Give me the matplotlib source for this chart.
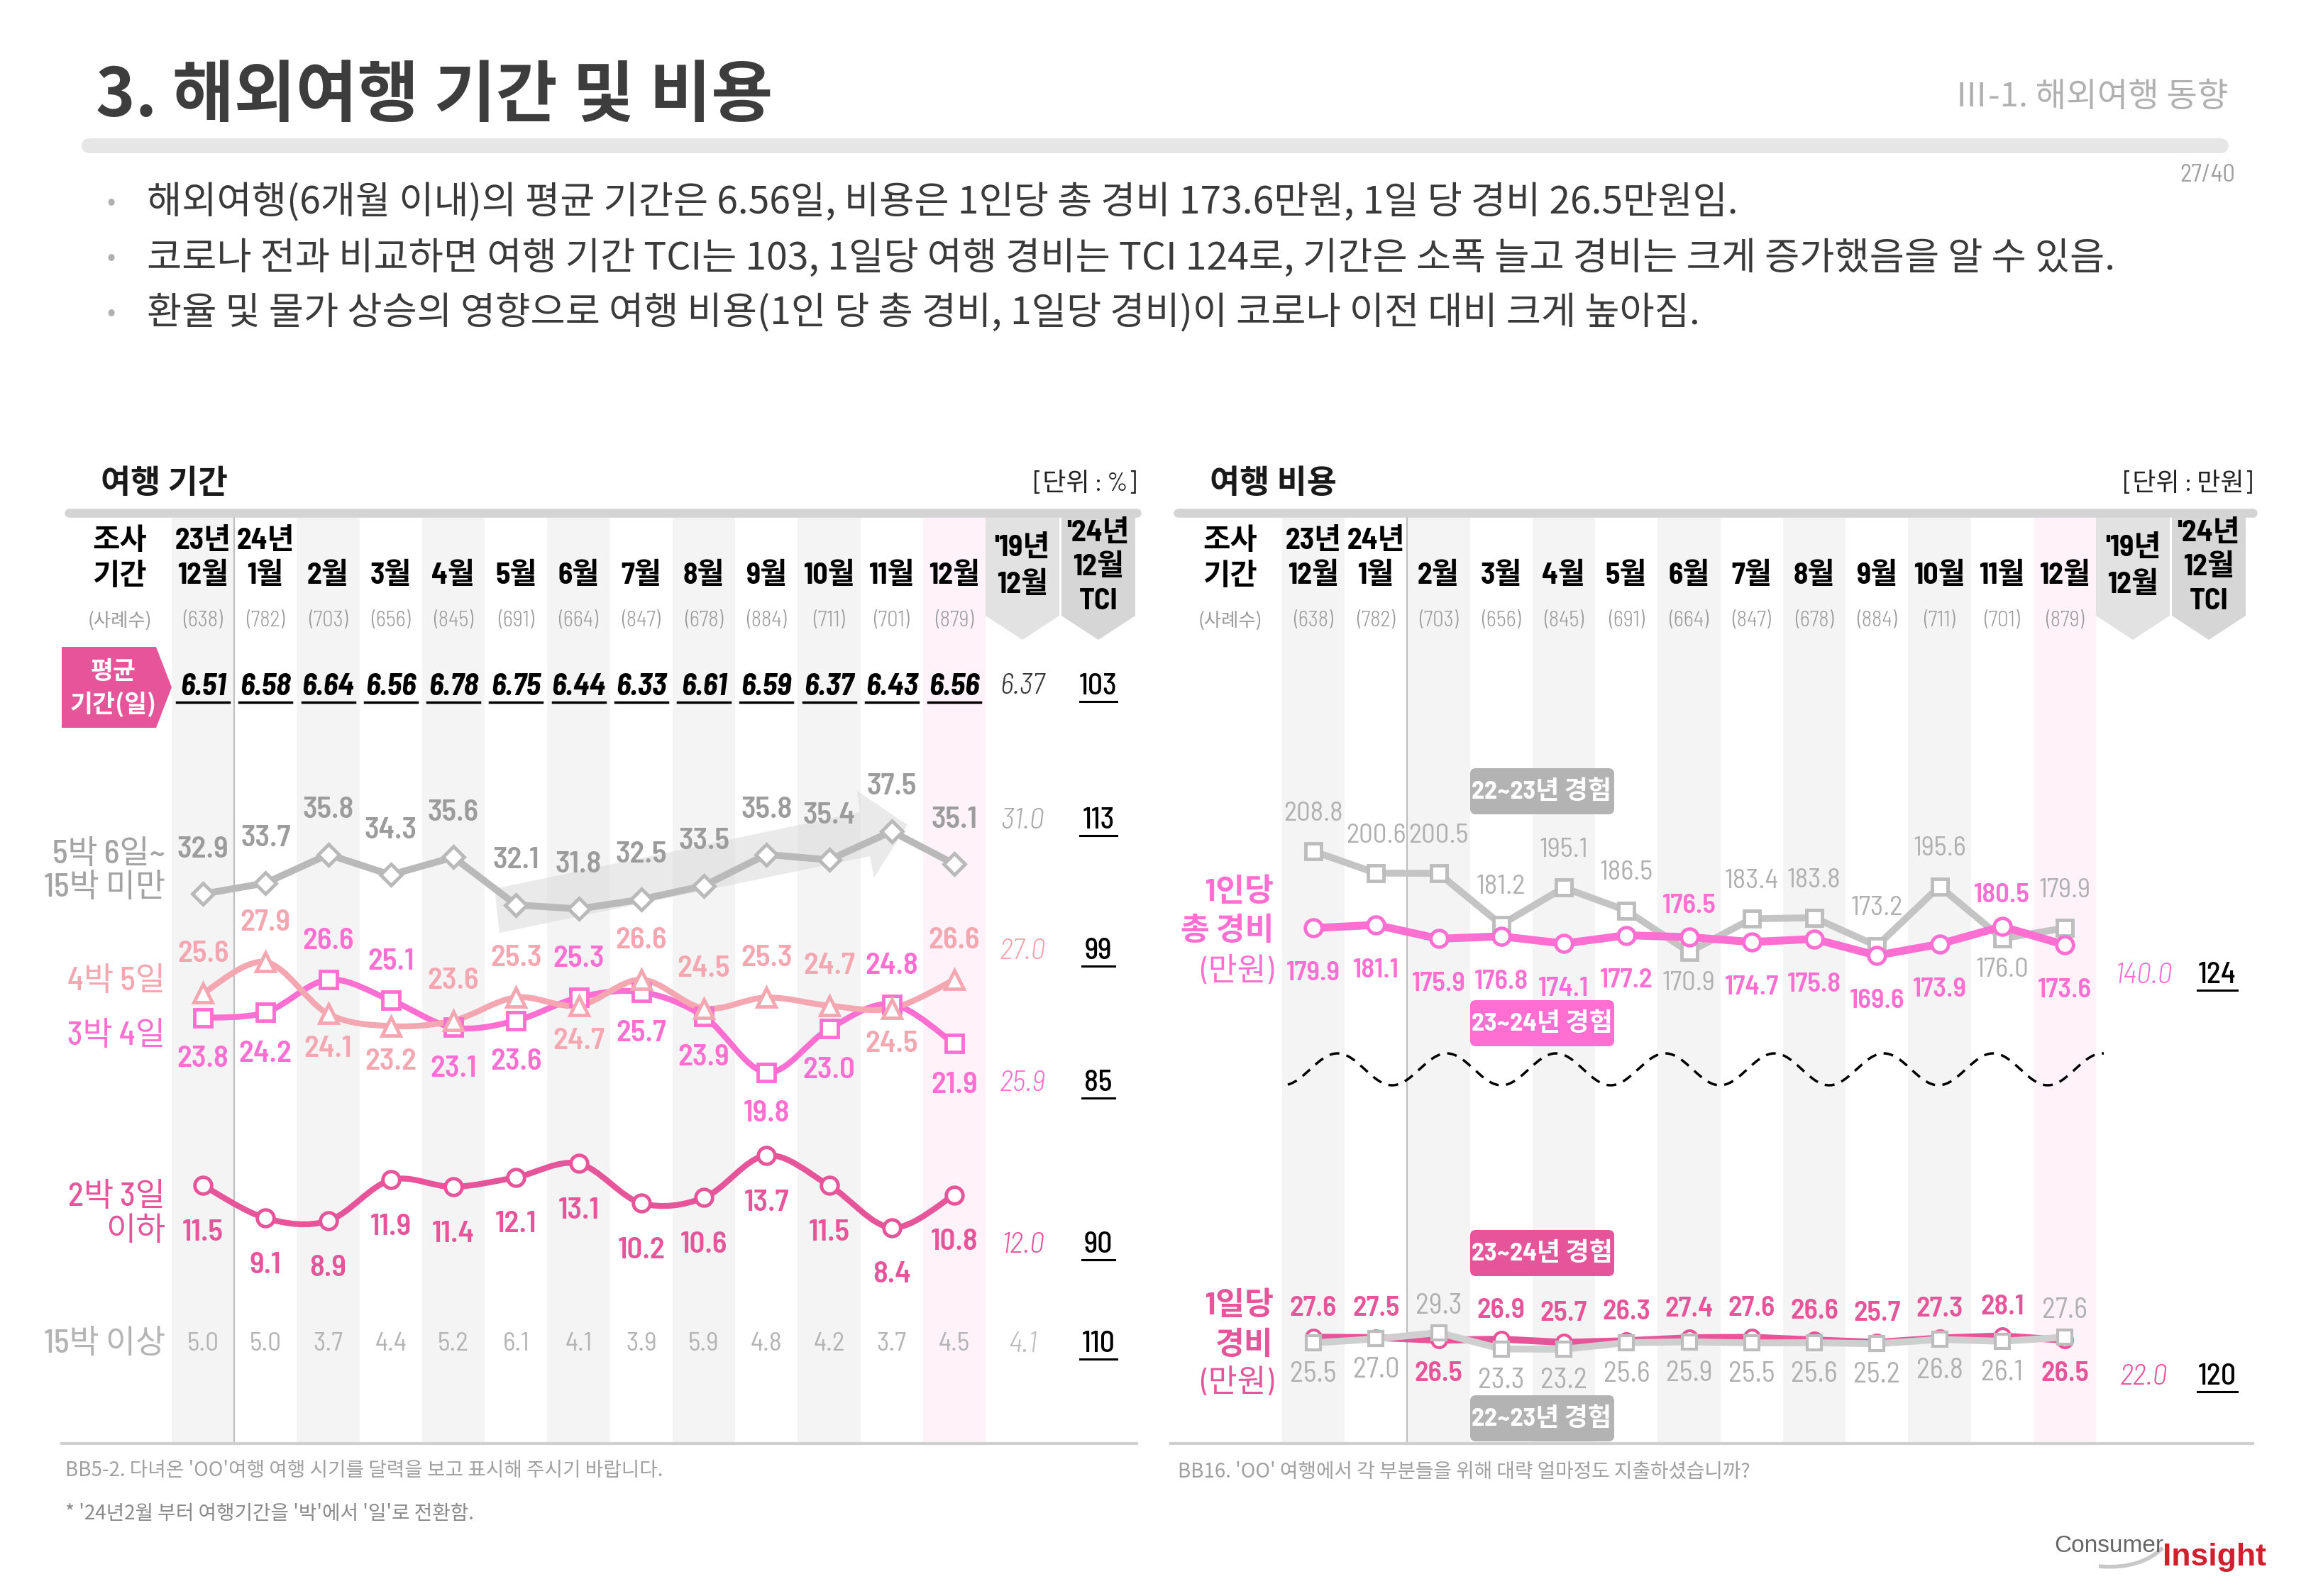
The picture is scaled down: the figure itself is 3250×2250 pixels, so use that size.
import numpy as np
import matplotlib.pyplot as plt
from matplotlib import font_manager as fm
from matplotlib.patches import Polygon, Rectangle, FancyBboxPatch, PathPatch
from matplotlib.path import Path

plt.rcParams['font.family'] = ['Noto Sans CJK KR', 'DejaVu Sans']
avail = {f.name for f in fm.fontManager.ttflist}
NUM = 'Barlow Semi Condensed' if 'Barlow Semi Condensed' in avail else 'Liberation Sans'
MIX = [NUM, 'Noto Sans CJK KR', 'DejaVu Sans']

W, H = 3250, 2250

# ---------------- data ----------------
years = ['23년', '24년']
months = ['12월', '1월', '2월', '3월', '4월', '5월', '6월', '7월', '8월', '9월', '10월', '11월', '12월']
n_cases = [638, 782, 703, 656, 845, 691, 664, 847, 678, 884, 711, 701, 879]

avg_days = [6.51, 6.58, 6.64, 6.56, 6.78, 6.75, 6.44, 6.33, 6.61, 6.59, 6.37, 6.43, 6.56]
avg_days_19 = 6.37
avg_days_tci = 103

stay_5n6d = [32.9, 33.7, 35.8, 34.3, 35.6, 32.1, 31.8, 32.5, 33.5, 35.8, 35.4, 37.5, 35.1]
stay_4n5d = [25.6, 27.9, 24.1, 23.2, 23.6, 25.3, 24.7, 26.6, 24.5, 25.3, 24.7, 24.5, 26.6]
stay_3n4d = [23.8, 24.2, 26.6, 25.1, 23.1, 23.6, 25.3, 25.7, 23.9, 19.8, 23.0, 24.8, 21.9]
stay_2n3d = [11.5, 9.1, 8.9, 11.9, 11.4, 12.1, 13.1, 10.2, 10.6, 13.7, 11.5, 8.4, 10.8]
stay_15n = [5.0, 5.0, 3.7, 4.4, 5.2, 6.1, 4.1, 3.9, 5.9, 4.8, 4.2, 3.7, 4.5]
stay_19 = [31.0, 27.0, 25.9, 12.0, 4.1]
stay_tci = [113, 99, 85, 90, 110]

cost_total_2324 = [179.9, 181.1, 175.9, 176.8, 174.1, 177.2, 176.5, 174.7, 175.8, 169.6, 173.9, 180.5, 173.6]
cost_total_2223 = [208.8, 200.6, 200.5, 181.2, 195.1, 186.5, 170.9, 183.4, 183.8, 173.2, 195.6, 176.0, 179.9]
cost_day_2324 = [27.6, 27.5, 26.5, 26.9, 25.7, 26.3, 27.4, 27.6, 26.6, 25.7, 27.3, 28.1, 26.5]
cost_day_2223 = [25.5, 27.0, 29.3, 23.3, 23.2, 25.6, 25.9, 25.5, 25.6, 25.2, 26.8, 26.1, 27.6]
cost_19 = [140.0, 22.0]
cost_tci = [124, 120]

# label side: 1 = above the point, -1 = below
side_4n5d = [1, 1, -1, -1, 1, 1, -1, 1, 1, 1, 1, -1, 1]
side_3n4d = [-1, -1, 1, 1, -1, -1, 1, -1, -1, -1, -1, 1, -1]
side_tot_2324 = [-1, -1, -1, -1, -1, -1, 1, -1, -1, -1, -1, 1, -1]
side_tot_2223 = [1, 1, 1, 1, 1, 1, -1, 1, 1, 1, 1, -1, 1]
side_day_2324 = [1, 1, -1, 1, 1, 1, 1, 1, 1, 1, 1, 1, -1]
side_day_2223 = [-1, -1, 1, -1, -1, -1, -1, -1, -1, -1, -1, -1, 1]

# ---------------- colours ----------------
GRAY_LINE = '#b9b9b9'
LPINK = '#f4a6b1'
MAGENTA = '#ff6fd2'
DPINK = '#e6559a'
STRIPE = '#f4f4f4'
PINK_BG = '#fff2f8'
BAR = '#d4d4d4'

XL0, XR0, DX = 286, 1851, 88.25

fig = plt.figure(figsize=(32.5, 22.5), dpi=100)
cv = fig.add_axes([0, 0, 1, 1])
cv.set_xlim(0, W)
cv.set_ylim(H, 0)
cv.axis('off')


def px_axes(x_left, x_right, y_top, y_bot):
    ax = fig.add_axes([x_left / W, 1 - y_bot / H, (x_right - x_left) / W, (y_bot - y_top) / H])
    ax.patch.set_alpha(0)
    ax.axis('off')
    ax.set_xlim(-0.5, 12.5)
    return ax


def smooth(ax, ys, color, lw, t=1 / 6):
    xs = np.arange(len(ys), dtype=float)
    p = np.column_stack([xs, np.asarray(ys, dtype=float)])
    verts = [p[0]]
    codes = [Path.MOVETO]
    for i in range(len(p) - 1):
        p0 = p[i - 1] if i > 0 else p[i]
        p3 = p[i + 2] if i + 2 < len(p) else p[i + 1]
        verts += [p[i] + (p[i + 1] - p0) * t, p[i + 1] - (p3 - p[i]) * t, p[i + 1]]
        codes += [Path.CURVE4] * 3
    ax.add_patch(PathPatch(Path(verts, codes), fc='none', ec=color, lw=lw,
                           capstyle='round', joinstyle='round'))


def markers(ax, ys, color, marker, ms, mew=3.5):
    ax.plot(range(len(ys)), ys, ls='none', marker=marker, ms=ms, mfc='white',
            mec=color, mew=mew, clip_on=False)


def labels(ax, ys, sides, up, down, color, size, weight=600):
    for i, (v, s) in enumerate(zip(ys, sides)):
        ax.annotate(f'{v:.1f}', (i, v), xytext=(0, up if s > 0 else -down),
                    textcoords='offset points', ha='center', va='center',
                    fontsize=size, color=color, fontweight=weight, family=MIX)


def uline(x, y, s, size, width, color='black'):
    cv.text(x, y, s, ha='center', va='center', fontsize=size, color=color,
            fontweight=500, family=MIX)
    cv.plot([x - width / 2, x + width / 2], [y + 21, y + 21], color=color, lw=2.2)


def ital(x, y, s, size, color):
    cv.text(x, y, s, ha='center', va='center', fontsize=size, color=color,
            style='italic', fontweight=300, family=MIX)


# ---------------- page header ----------------
cv.text(135, 136, '3. 해외여행 기간 및 비용', fontsize=68, fontweight='bold', color='#3d3d3d', va='center')
cv.text(3140, 137, 'Ⅲ-1. 해외여행 동향', fontsize=34, color='#b0b0b0', va='center', ha='right')
cv.plot([125, 3130], [205, 205], color='#e6e6e6', lw=15, solid_capstyle='round')
cv.text(3150, 247, '27/40', fontsize=25, color='#a0a0a0', va='center', ha='right', family=MIX)

bullets = [
    '해외여행(6개월 이내)의 평균 기간은 6.56일, 비용은 1인당 총 경비 173.6만원, 1일 당 경비 26.5만원임.',
    '코로나 전과 비교하면 여행 기간 TCI는 103, 1일당 여행 경비는 TCI 124로, 기간은 소폭 늘고 경비는 크게 증가했음을 알 수 있음.',
    '환율 및 물가 상승의 영향으로 여행 비용(1인 당 총 경비, 1일당 경비)이 코로나 이전 대비 크게 높아짐.',
]
for k, b in enumerate(bullets):
    y = 286 + k * 78
    cv.text(157, y, '•', fontsize=26, color='#b0b0b0', va='center', ha='center')
    cv.text(207, y, b, fontsize=38.5, color='#3a3a3a', va='center')

# ---------------- panel frames ----------------
for x0, xl, xr, vline, title, unit in [
        (XL0, 97, 1602, XL0 + DX / 2, '여행 기간', '[단위 : %]'),
        (XR0, 1660, 3175, XR0 + 1.5 * DX, '여행 비용', '[단위 : 만원]')]:
    cv.text(xl + 45, 682, title, fontsize=33, fontweight='bold', color='#1a1a1a', va='center')
    cv.text(xr, 682, unit, fontsize=26, color='#222222', va='center', ha='right', family=MIX)
    for i in range(13):
        if i == 12:
            fc = PINK_BG
        elif i % 2 == 0:
            fc = STRIPE
        else:
            continue
        cv.add_patch(Rectangle((x0 + i * DX - DX / 2, 728), DX, 2035 - 728, fc=fc, ec='none', zorder=0))
    cv.plot([vline, vline], [728, 2035], color='#bdbdbd', lw=1.5, zorder=1)
    cv.plot([xl, xr], [723, 723], color=BAR, lw=9, solid_capstyle='round', zorder=2)
    cv.plot([xl - 10, xr], [2035, 2035], color='#d0d0d0', lw=3, zorder=2)

    # '19 and TCI header arrows
    x19 = x0 + 12 * DX + 96
    xtc = x19 + 107
    for xc, fc in [(x19, '#e2e2e2'), (xtc, '#d6d6d6')]:
        cv.add_patch(Polygon([(xc - 52, 728), (xc + 52, 728), (xc + 52, 868), (xc, 902), (xc - 52, 868)],
                             closed=True, fc=fc, ec='none', zorder=1))
    hk = dict(fontsize=30, fontweight='bold', ha='center', va='center', family=MIX)
    cv.text(x19, 773, "'19년", **hk)
    cv.text(x19, 825, '12월', **hk)
    cv.text(xtc, 752, "'24년", **hk)
    cv.text(xtc, 800, '12월', **hk)
    cv.text(xtc, 848, 'TCI', **hk)

    # survey period header
    cx = x0 - 117
    cv.text(cx, 763, '조사', **hk)
    cv.text(cx, 812, '기간', **hk)
    cv.text(cx, 875, '(사례수)', fontsize=19, color='#9a9a9a', ha='center', va='center')
    for i, yr in enumerate(years):
        cv.text(x0 + i * DX, 763, yr, **hk)
    for i, (m, n) in enumerate(zip(months, n_cases)):
        cv.text(x0 + i * DX, 812, m, **hk)
        cv.text(x0 + i * DX, 875, f'({n})', fontsize=22, fontweight=300, color='#9a9a9a',
                ha='center', va='center', family=MIX)

XL19, XLTC = XL0 + 12 * DX + 96, XL0 + 12 * DX + 203
XR19, XRTC = XR0 + 12 * DX + 96, XR0 + 12 * DX + 203

# ---------------- left: average days row ----------------
cv.add_patch(Polygon([(87, 912), (220, 912), (242, 969), (220, 1026), (87, 1026)],
                     closed=True, fc=DPINK, ec='none', zorder=2))
cv.text(160, 946, '평균', fontsize=25, fontweight='bold', color='white', ha='center', va='center', zorder=3)
cv.text(160, 993, '기간(일)', fontsize=25, fontweight='bold', color='white', ha='center', va='center', zorder=3)
for i, v in enumerate(avg_days):
    x = XL0 + i * DX
    cv.text(x, 968, f'{v:.2f}', fontsize=31, fontweight='bold', style='italic', ha='center', va='center',
            family=MIX)
    cv.plot([x - 37, x + 37], [990, 990], color='black', lw=2.5)
ital(XL19, 968, f'{avg_days_19:.2f}', 30, '#333333')
uline(XLTC, 968, str(avg_days_tci), 30, 52)

# ---------------- left: stay length lines ----------------
cv.add_patch(Polygon([(697, 1253), (1212, 1145), (1208, 1115), (1279, 1163), (1232, 1237),
                      (1226, 1207), (704, 1315)], closed=True, fc='#dcdcdc', ec='none', alpha=0.6, zorder=1))

axL = px_axes(XL0 - DX / 2, XL0 + 12.5 * DX, 1080, 1800)
axL.set_ylim(4.79, 42.29)

axL.plot(range(13), stay_5n6d, color=GRAY_LINE, lw=7, solid_joinstyle='round')
markers(axL, stay_5n6d, GRAY_LINE, 'D', 15)
labels(axL, stay_5n6d, [1] * 13, 45, 45, '#9c9c9c', 31)

smooth(axL, stay_3n4d, MAGENTA, 6)
markers(axL, stay_3n4d, MAGENTA, 's', 17)
smooth(axL, stay_4n5d, LPINK, 6)
markers(axL, stay_4n5d, LPINK, '^', 19)
labels(axL, stay_3n4d, side_3n4d, 39, 42, MAGENTA, 31)
labels(axL, stay_4n5d, side_4n5d, 40, 36, LPINK, 31)

smooth(axL, stay_2n3d, DPINK, 6)
markers(axL, stay_2n3d, DPINK, 'o', 17)
labels(axL, stay_2n3d, [-1] * 13, 48, 48, DPINK, 31)

for i, v in enumerate(stay_15n):
    cv.text(XL0 + i * DX, 1895, f'{v:.1f}', fontsize=27, color='#b4b4b4', ha='center', va='center',
            family=MIX)

row_names = [(['5박 6일~', '15박 미만'], [1205, 1252], '#a3a3a3'),
             (['4박 5일'], [1384], LPINK),
             (['3박 4일'], [1461], MAGENTA),
             (['2박 3일', '이하'], [1688, 1736], DPINK),
             (['15박 이상'], [1895], '#b4b4b4')]
for lines, ys, col in row_names:
    for s, y in zip(lines, ys):
        cv.text(233, y, s, fontsize=33, color=col, ha='right', va='center', fontweight=500, family=MIX)

row_y = [1157, 1341, 1527, 1755, 1895]
row_c = ['#aaaaaa', LPINK, MAGENTA, DPINK, '#bbbbbb']
for v, t, y, c in zip(stay_19, stay_tci, row_y, row_c):
    ital(XL19, y, f'{v:.1f}', 30, c)
    uline(XLTC, y, str(t), 30, 46 if t < 100 else 52)

cv.text(92, 2073, "BB5-2. 다녀온 'OO'여행 여행 시기를 달력을 보고 표시해 주시기 바랍니다.", fontsize=20,
        color='#a0a0a0', va='center')
cv.text(92, 2134, "* '24년2월 부터 여행기간을 '박'에서 '일'로 전환함.", fontsize=20, color='#8a8a8a', va='center')

# ---------------- right: travel cost ----------------
axRT = px_axes(XR0 - DX / 2, XR0 + 12.5 * DX, 1100, 1440)
axRT.set_ylim(144.8, 235.5)
axRT.plot(range(13), cost_total_2223, color='#c4c4c4', lw=7)
markers(axRT, cost_total_2223, '#bdbdbd', 's', 16)
axRT.plot(range(13), cost_total_2324, color=MAGENTA, lw=8)
markers(axRT, cost_total_2324, MAGENTA, 'o', 17)
labels(axRT, cost_total_2223, side_tot_2223, 38, 32, '#b0b0b0', 28, 400)
labels(axRT, cost_total_2324, side_tot_2324, 32, 46, MAGENTA, 28)

axRB = px_axes(XR0 - DX / 2, XR0 + 12.5 * DX, 1780, 1990)
axRB.set_ylim(0.2, 55.1)
axRB.plot(range(13), cost_day_2324, color=DPINK, lw=7)
markers(axRB, cost_day_2324, DPINK, 'o', 15, 3)
axRB.plot(range(13), cost_day_2223, color='#cfcfcf', lw=7)
markers(axRB, cost_day_2223, '#bdbdbd', 's', 15, 3)
labels(axRB, cost_day_2324, side_day_2324, 29, 34, DPINK, 29)
labels(axRB, cost_day_2223, side_day_2223, 27, 32, '#b0b0b0', 29, 400)

# break line between the two blocks
wx = np.linspace(1815, 2965, 400)
cv.plot(wx, 1507.5 - 22.5 * np.cos(2 * np.pi * (wx - 1885) / 154), color='black', lw=2.5,
        ls=(0, (4, 3)))

for (y0, fc, s) in [(1083, '#b3b3b3', '22~23년 경험'), (1410, MAGENTA, '23~24년 경험'),
                    (1734, DPINK, '23~24년 경험'), (1967, '#b3b3b3', '22~23년 경험')]:
    cv.add_patch(FancyBboxPatch((2080, y0 + 8), 187, 49, boxstyle='round,pad=8', fc=fc, ec='none', zorder=3))
    cv.text(2173, y0 + 33, s, fontsize=26, fontweight='bold', color='white', ha='center', va='center',
            zorder=4, family=MIX)

for s, y, w in [('1인당', 1257, 'bold'), ('총 경비', 1312, 'bold'), ('(만원)', 1370, 'normal')]:
    cv.text(1795, y, s, fontsize=32, color=MAGENTA, ha='right', va='center', fontweight=w, family=MIX)
for s, y, w in [('1일당', 1840, 'bold'), ('경비', 1896, 'bold'), ('(만원)', 1950, 'normal')]:
    cv.text(1795, y, s, fontsize=32, color=DPINK, ha='right', va='center', fontweight=w, family=MIX)

ital(XR19 + 15, 1375, f'{cost_19[0]:.1f}', 30, MAGENTA)
uline(XRTC + 12, 1375, str(cost_tci[0]), 30, 56)
ital(XR19 + 15, 1941, f'{cost_19[1]:.1f}', 30, DPINK)
uline(XRTC + 12, 1941, str(cost_tci[1]), 30, 56)

cv.text(1660, 2075, "BB16. 'OO' 여행에서 각 부분들을 위해 대략 얼마정도 지출하셨습니까?", fontsize=20,
        color='#a0a0a0', va='center')

# ---------------- logo ----------------
cv.text(2895, 2180, 'Consumer', fontsize=24, color='#666666', va='center', family=['Liberation Sans'])
cv.text(3048, 2195, 'Insight', fontsize=32, color='#d21f2e', fontweight='bold', va='center',
        family=['Liberation Sans'])
cv.add_patch(PathPatch(Path([(2958, 2208), (3000, 2212), (3030, 2200), (3048, 2182)],
                            [Path.MOVETO, Path.CURVE4, Path.CURVE4, Path.CURVE4]),
                       fc='none', ec='#c8c8c8', lw=4))

fig.savefig('out.png', dpi=100)
